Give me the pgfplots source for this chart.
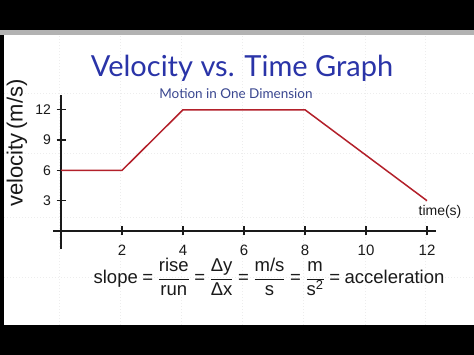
\documentclass[border=0pt]{standalone}
\usepackage{pgfplots}
\pgfplotsset{compat=1.18}
\usepackage{fontspec}
\setmainfont{Liberation Sans}
\newfontfamily\titlefont{Lato}
\definecolor{titleblue}{HTML}{2A34A8}
\definecolor{subblue}{HTML}{3A4790}
\definecolor{linered}{HTML}{B3202A}
\definecolor{ink}{HTML}{1A1A1A}
\newcommand{\fr}[2]{$\displaystyle\frac{\mbox{#1}}{\mbox{#2}}$}
\newcommand{\eq}{\hspace{4.5pt}=\hspace{4.5pt}}
\begin{document}
\begin{tikzpicture}[x=1pt,y=1pt]
\useasboundingbox (0,0) rectangle (474,355);
\fill[black] (0,0) rectangle (474,355);
\fill[white] (4,30) rectangle (474,322);
\fill[gray!60] (0,320) rectangle (474,325);
% faint whiteboard grid
\foreach \xx in {59,120,181,242,303,365,425}
  \draw[black!7,dash pattern=on 1pt off 2pt] (\xx,30) -- (\xx,320);
\foreach \yy in {262,202,138,78}
  \draw[black!7,dash pattern=on 1pt off 2pt] (4,\yy) -- (474,\yy);
\begin{axis}[
  anchor=origin, at={(61pt,124pt)},
  x=30.5pt, y=10.1pt, scale only axis,
  xmin=-0.25, xmax=12.3, ymin=-1.8, ymax=13.5,
  axis lines=middle,
  axis line style={ink, line width=1.3pt, -},
  xtick={2,4,6,8,10,12}, ytick={3,6,9,12},
  tick align=center,
  major tick length=9pt,
  tick style={ink, line width=1.2pt},
  xticklabel style={font=\fontsize{15}{15}\selectfont, ink, yshift=-6pt},
  yticklabel style={font=\fontsize{14}{14}\selectfont, ink, xshift=-2pt},
  /pgf/number format/assume math mode=true,
  clip=false,
]
\addplot[linered, line width=1.5pt] coordinates {(0,6) (2,6) (4,12) (8,12) (12,3)};
\end{axis}
\node[titleblue, font=\titlefont\fontsize{29}{29}\selectfont] at (242,287) {Velocity vs. Time Graph};
\node[subblue, font=\titlefont\fontsize{13.5}{13.5}\selectfont] at (236,261) {Motion in One Dimension};
\node[ink, rotate=90, font=\fontsize{22}{22}\selectfont] at (17,212) {velocity\,(m/s)};
\node[ink, font=\fontsize{14}{14}\selectfont] at (440,143) {time(s)};
\node[ink, font=\fontsize{18.5}{18.5}\selectfont] at (269,78)
  {slope\eq\fr{rise}{run}\eq\fr{Δy}{Δx}\eq\fr{m/s}{s}\eq\fr{m}{s\textsuperscript{2}}\eq acceleration};
\end{tikzpicture}
\end{document}
